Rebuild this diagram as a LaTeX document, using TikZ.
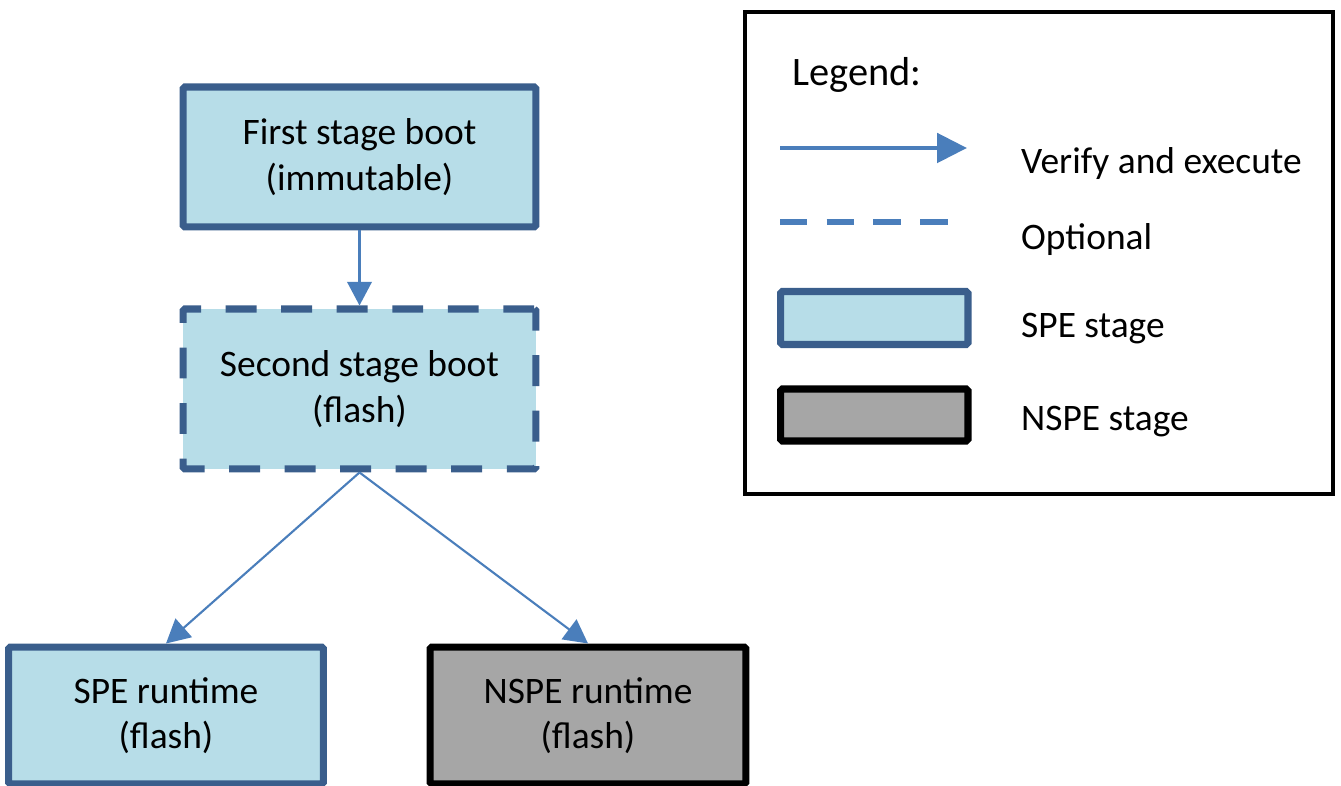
\documentclass[tikz,border=0pt]{standalone}
\usepackage{fontspec}
\setmainfont{Carlito}
\usetikzlibrary{arrows.meta}
\definecolor{spefill}{HTML}{B7DDE8}
\definecolor{speline}{HTML}{3A5E8C}
\definecolor{arrowblue}{HTML}{4A7EBB}
\definecolor{nspefill}{HTML}{A6A6A6}

\begin{document}
\begin{tikzpicture}[x=0.02cm,y=-0.02cm,
    txt/.style={font=\fontsize{21.3}{26}\selectfont},
    spe/.style={txt,draw=speline,fill=spefill,line width=4pt,rounded corners=1pt,align=center,inner sep=0pt},
    nspe/.style={txt,draw=black,fill=nspefill,line width=4pt,rounded corners=1pt,align=center,inner sep=0pt},
    optional/.style={dash pattern=on 17.6pt off 14pt},
    verify/.style={draw=arrowblue,line width=1.2pt,-{Triangle[length=13.5pt,width=14pt]}}]
    \useasboundingbox (0,0) rectangle (1341,786);
				\node[spe,minimum width=7.06cm,minimum height=2.8cm] (first) at (359.5,157) {First stage boot\\(immutable)};
				\node[spe,optional,minimum width=7.06cm,minimum height=3.2cm] (second) at (359.5,389) {Second stage boot\\(flash)};
				\node[spe,minimum width=6.3cm,minimum height=2.74cm] (sperun) at (166,715.5) {SPE runtime\\(flash)};
				\node[nspe,minimum width=6.32cm,minimum height=2.74cm] (nsperun) at (588,715.5) {NSPE runtime\\(flash)};
				\draw[verify] (first) to (second);
				\draw[verify] (second.south) to (sperun.north);
				\draw[verify] (second.south) to (nsperun.north);
				\node[draw=black,line width=2.3pt,minimum width=11.76cm,minimum height=9.64cm] (legend) at (1039,253) {};
				\node[font=\fontsize{23}{26}\selectfont,anchor=base west] (legtitle) at (786,86) {Legend:};
				\coordinate (arrA) at (780,148);
				\coordinate (arrB) at (967,148);
				\draw[draw=arrowblue,line width=2.8pt,-{Triangle[length=17pt,width=16.5pt]}] (arrA) to (arrB);
				\node[txt,anchor=base west] (verlbl) at (1015,174) {Verify and execute};
				\coordinate (dashA) at (780,222);
				\coordinate (dashB) at (949,222);
				\draw[draw=arrowblue,line width=3.8pt,dash pattern=on 15.6pt off 11pt] (dashA) to (dashB);
				\node[txt,anchor=base west] (optlbl) at (1015,250) {Optional};
				\node[spe,minimum width=3.75cm,minimum height=1.06cm] (spekey) at (874.25,318) {};
				\node[txt,anchor=base west] (spelbl) at (1015,338) {SPE stage};
				\node[nspe,minimum width=3.75cm,minimum height=1.04cm] (nspekey) at (874.25,415) {};
				\node[txt,anchor=base west] (nspelbl) at (1015,431) {NSPE stage};
			\end{tikzpicture}
\end{document}
